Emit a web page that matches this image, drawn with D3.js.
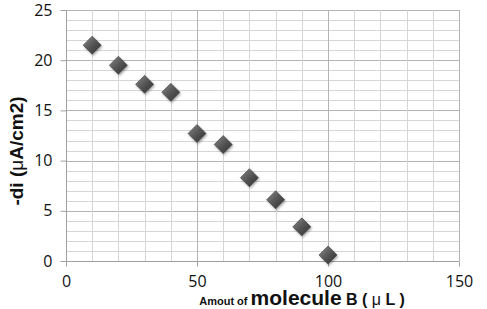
<!DOCTYPE html>
<html>
<head>
<meta charset="utf-8">
<script src="https://cdn.jsdelivr.net/npm/d3@7"></script>
<style>
  body { margin: 0; background: #fff; }
</style>
</head>
<body>
<div class="chart"></div>
<script>
var svgWidth = 487;
var svgHeight = 309;

var margin = { top: 10, right: 28, bottom: 48, left: 66 };
var width = svgWidth - margin.left - margin.right;
var height = svgHeight - margin.top - margin.bottom;

// data
var amounts = [10, 20, 30, 40, 50, 60, 70, 80, 90, 100];
var currents = [21.5, 19.5, 17.6, 16.8, 12.7, 11.6, 8.3, 6.1, 3.4, 0.6];
var xTicks = [0, 50, 100, 150];
var yTicks = [0, 5, 10, 15, 20, 25];

var svg = d3.select(".chart")
  .append("svg")
  .attr("width", svgWidth)
  .attr("height", svgHeight);

var defs = svg.append("defs");
var grad = defs.append("linearGradient")
  .attr("id", "diamondFill")
  .attr("x1", "0").attr("y1", "0").attr("x2", "1").attr("y2", "1");
grad.append("stop").attr("offset", "0%").attr("stop-color", "#8a8a8a");
grad.append("stop").attr("offset", "50%").attr("stop-color", "#555");
grad.append("stop").attr("offset", "100%").attr("stop-color", "#2e2e2e");

var shadow = defs.append("filter").attr("id", "shadow")
  .attr("x", "-50%").attr("y", "-50%").attr("width", "200%").attr("height", "200%");
shadow.append("feDropShadow")
  .attr("dx", 1).attr("dy", 1.5).attr("stdDeviation", 1.2)
  .attr("flood-color", "#000").attr("flood-opacity", 0.35);

var chartGroup = svg.append("g")
  .attr("transform", `translate(${margin.left}, ${margin.top})`);

var xScale = d3.scaleLinear().domain([0, 150]).range([0, width]);
var yScale = d3.scaleLinear().domain([0, 25]).range([height, 0]);

// minor horizontal gridlines every 1, major every 5
chartGroup.append("g")
  .selectAll("line")
  .data(d3.range(0, 26))
  .enter()
  .append("line")
  .attr("x1", 0)
  .attr("x2", width)
  .attr("y1", d => Math.round(yScale(d)) + 0.5)
  .attr("y2", d => Math.round(yScale(d)) + 0.5)
  .attr("stroke", d => d % 5 === 0 ? "#b4b4b4" : "#d6d6d6")
  .attr("stroke-width", 1);

// vertical gridlines every 10
chartGroup.append("g")
  .selectAll("line")
  .data(d3.range(0, 151, 10))
  .enter()
  .append("line")
  .attr("x1", d => Math.round(xScale(d)) + 0.5)
  .attr("x2", d => Math.round(xScale(d)) + 0.5)
  .attr("y1", 0)
  .attr("y2", height)
  .attr("stroke", d => d % 50 === 0 ? "#b4b4b4" : "#d6d6d6")
  .attr("stroke-width", 1);

// axes
var bottomAxis = d3.axisBottom(xScale).tickValues(xTicks).tickSize(5).tickPadding(9);
var leftAxis = d3.axisLeft(yScale).tickValues(yTicks).tickSize(6).tickPadding(8);

var xAxis = chartGroup.append("g")
  .attr("transform", `translate(0, ${height + 0.5})`)
  .call(bottomAxis);
var yAxis = chartGroup.append("g")
  .attr("transform", "translate(0.5, 0)")
  .call(leftAxis);

[xAxis, yAxis].forEach(function(ax) {
  ax.select(".domain").attr("stroke", "#a0a0a0");
  ax.selectAll(".tick line").attr("stroke", "#a0a0a0");
  ax.selectAll(".tick text")
    .attr("fill", "#111")
    .attr("font-size", "16px")
    .attr("font-family", "'Open Sans', 'Liberation Sans', sans-serif");
});
yAxis.select(".domain").attr("d", `M0,${height}V0`);
xAxis.select(".domain").attr("d", `M0,0H${width}`);

// markers
chartGroup.selectAll("path.pt")
  .data(amounts)
  .enter()
  .append("path")
  .attr("class", "pt")
  .attr("d", "M0,-9L9,0L0,9L-9,0Z")
  .attr("transform", (d, i) => `translate(${xScale(d)}, ${yScale(currents[i])})`)
  .attr("fill", "url(#diamondFill)")
  .attr("stroke", "#3a3a3a")
  .attr("stroke-width", 0.6)
  .attr("filter", "url(#shadow)");

// y axis title
var yTitle = svg.append("text")
  .attr("transform", `translate(23, 151) rotate(-90)`)
  .attr("text-anchor", "middle")
  .attr("font-family", "'Liberation Sans', Arial, sans-serif")
  .attr("font-weight", "bold")
  .attr("font-size", "19px")
  .attr("fill", "#111");
yTitle.append("tspan").text("-di (");
yTitle.append("tspan").attr("font-weight", "normal").text("μ");
yTitle.append("tspan").text("A/cm2)");

// x axis title
var xTitle = svg.append("text")
  .attr("x", 302)
  .attr("y", 305)
  .attr("text-anchor", "middle")
  .attr("font-family", "'Liberation Sans', Arial, sans-serif")
  .attr("font-weight", "bold")
  .attr("fill", "#111");
xTitle.append("tspan").attr("font-size", "11px").text("Amout of ");
xTitle.append("tspan").attr("font-size", "21px").text("molecule");
xTitle.append("tspan").attr("font-size", "16px").text(" B ( ");
xTitle.append("tspan").attr("font-size", "16px").attr("font-weight", "normal").text("μ");
xTitle.append("tspan").attr("font-size", "16px").text(" L )");
</script>
</body>
</html>
